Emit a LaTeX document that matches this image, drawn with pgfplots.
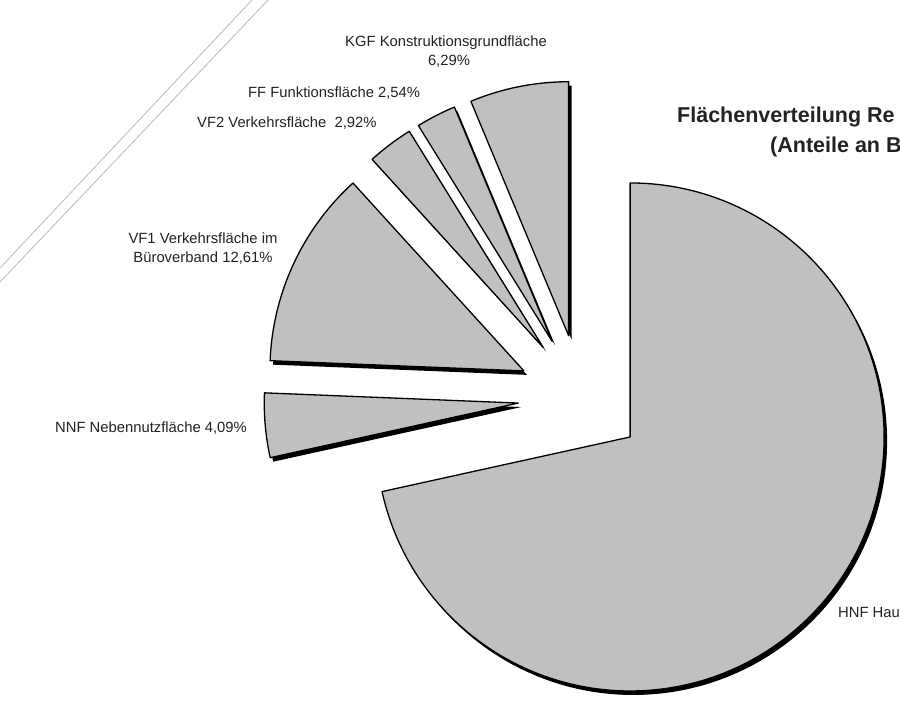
\documentclass[border=0pt]{standalone}
\usepackage{pgfplots}
\pgfplotsset{compat=1.18}
\usepackage{pgfplotstable}
\usepackage{fontspec}
\setmainfont{Liberation Sans}
\definecolor{piegray}{HTML}{C0C0C0}
\definecolor{txt}{HTML}{222222}

\pgfplotstableread{
code value
HNF 71.55
NNF 4.09
VF1 12.61
VF2 2.92
FF 2.54
KGF 6.29
}\piedata

\begin{document}
\begin{tikzpicture}
\useasboundingbox (0,0) rectangle (900pt,701pt);
\clip (0,0) rectangle (900pt,701pt);
\xdef\cum{0}
\foreach \i in {0,...,5}{%
  \pgfplotstablegetelem{\i}{value}\of\piedata
  \let\val\pgfplotsretval
  \pgfmathsetmacro\sa{90-\cum*3.6}%
  \pgfmathsetmacro\ea{90-(\cum+\val)*3.6}%
  \pgfmathsetmacro\ma{(\sa+\ea)/2}%
  \pgfmathsetmacro\tx{581+63*cos(\ma)}%
  \pgfmathsetmacro\ty{397.5-63*sin(\ma)}%
  \pgfmathsetmacro\nc{\cum+\val}%
  \expandafter\xdef\csname pSA\i\endcsname{\sa}%
  \expandafter\xdef\csname pEA\i\endcsname{\ea}%
  \expandafter\xdef\csname pTX\i\endcsname{\tx}%
  \expandafter\xdef\csname pTY\i\endcsname{\ty}%
  \xdef\cum{\nc}%
}
\begin{axis}[at={(0,0)}, anchor=south west, x=1pt, y=1pt,
  xmin=0, xmax=900, ymin=0, ymax=701, y dir=reverse,
  enlargelimits=false, hide axis, clip=false]
\addplot[gray!55, line width=0.8pt] coordinates {(0,268) (252,0)};
\addplot[gray!55, line width=0.8pt] coordinates {(0,282) (268,0)};
\pgfplotsinvokeforeach{0,...,5}{
  \fill[black] ([shift={(3pt,-4pt)}]axis cs:\csname pTX#1\endcsname,\csname pTY#1\endcsname)
    -- ++(\csname pSA#1\endcsname:254pt)
    arc[start angle=\csname pSA#1\endcsname, end angle=\csname pEA#1\endcsname, radius=254pt] -- cycle;
}
\pgfplotsinvokeforeach{0,...,5}{
  \filldraw[fill=piegray, draw=black, line width=1.3pt, line join=round]
    (axis cs:\csname pTX#1\endcsname,\csname pTY#1\endcsname)
    -- ++(\csname pSA#1\endcsname:254pt)
    arc[start angle=\csname pSA#1\endcsname, end angle=\csname pEA#1\endcsname, radius=254pt] -- cycle;
}
\begin{scope}[every node/.style={inner sep=0pt, text=txt, font=\fontsize{14.8}{17}\selectfont}]
\node[anchor=base] at (axis cs:446,47) {KGF Konstruktionsgrundfläche};
\node[anchor=base] at (axis cs:449,66) {6,29\%};
\node[anchor=base west] at (axis cs:248,98) {FF Funktionsfläche 2,54\%};
\node[anchor=base west] at (axis cs:197,127) {VF2 Verkehrsfläche\ \ 2,92\%};
\node[anchor=base] at (axis cs:203,243) {VF1 Verkehrsfläche im};
\node[anchor=base] at (axis cs:203,262) {Büroverband 12,61\%};
\node[anchor=base west] at (axis cs:55,432) {NNF Nebennutzfläche 4,09\%};
\node[anchor=base west] at (axis cs:838,617) {HNF Hau};
\end{scope}
\begin{scope}[every node/.style={inner sep=0pt, text=txt, font=\bfseries\fontsize{21.5}{25}\selectfont}]
\node[anchor=base west] at (axis cs:677,122) {Flächenverteilung Re};
\node[anchor=base west] at (axis cs:770,152) {(Anteile an B};
\end{scope}
\end{axis}
\end{tikzpicture}
\end{document}
